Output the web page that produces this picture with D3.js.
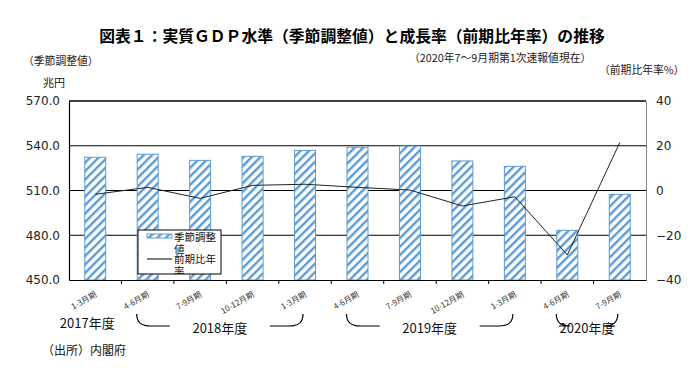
<!DOCTYPE html>
<html>
<head>
<meta charset="utf-8">
<script src="https://cdn.jsdelivr.net/npm/d3@7"></script>
<style>
body { margin: 0; background: #fff; }
text { font-family: "Noto Sans CJK JP", "DejaVu Sans", sans-serif; }
</style>
</head>
<body>
<div id="chart"></div>
<script>
var quarters = ["1-3月期", "4-6月期", "7-9月期", "10-12月期", "1-3月期", "4-6月期", "7-9月期", "10-12月期", "1-3月期", "4-6月期", "7-9月期"];
var gdpLevel = [532.3, 534.3, 530.2, 532.9, 536.9, 539.0, 539.8, 529.8, 526.2, 483.3, 507.4];
var growthRate = [-1.7, 1.4, -3.5, 2.3, 2.8, 1.4, 0.2, -6.9, -2.8, -28.8, 21.4];
var leftTicks = [450, 480, 510, 540, 570];
var rightTicks = [-40, -20, 0, 20, 40];
// fiscal years: first / last quarter index
var fiscalYears = [
    { label: "2017年度", from: 0, to: 0 },
    { label: "2018年度", from: 1, to: 4 },
    { label: "2019年度", from: 5, to: 8 },
    { label: "2020年度", from: 9, to: 10 }
];

var width = 699, height = 386;
var plot = { left: 69, right: 646, top: 101, bottom: 280 };
var barBlue = "#5b9bd5";

var svg = d3.select("#chart").append("svg")
    .attr("width", width)
    .attr("height", height);

var defs = svg.append("defs");
var pat = defs.append("pattern")
    .attr("id", "hatch")
    .attr("patternUnits", "userSpaceOnUse")
    .attr("width", 6).attr("height", 6)
    .attr("patternTransform", "rotate(45)");
pat.append("rect").attr("width", 6).attr("height", 6).attr("fill", "#fff");
pat.append("rect").attr("x", 0).attr("width", 2.4).attr("height", 6).attr("fill", barBlue);

var x = d3.scaleBand()
    .domain(d3.range(quarters.length))
    .range([plot.left, plot.right]);

var yL = d3.scaleLinear().domain([450, 570]).range([plot.bottom, plot.top]);
var yR = d3.scaleLinear().domain([-40, 40]).range([plot.bottom, plot.top]);

// gridlines
svg.append("g").selectAll("line")
    .data(leftTicks.slice(1))
    .enter().append("line")
    .attr("x1", plot.left).attr("x2", plot.right)
    .attr("y1", function(d) { return yL(d); })
    .attr("y2", function(d) { return yL(d); })
    .attr("stroke", "#000").attr("stroke-width", 1.2);

// bars
var barW = 21;
svg.append("g").selectAll("rect")
    .data(gdpLevel)
    .enter().append("rect")
    .attr("x", function(d, i) { return x(i) + x.bandwidth() / 2 - barW / 2; })
    .attr("y", function(d) { return yL(d); })
    .attr("width", barW)
    .attr("height", function(d) { return plot.bottom - yL(d); })
    .attr("fill", "url(#hatch)")
    .attr("stroke", barBlue)
    .attr("stroke-width", 1);

// growth line
var line = d3.line()
    .x(function(d, i) { return x(i) + x.bandwidth() / 2; })
    .y(function(d) { return yR(d); });
svg.append("path")
    .datum(growthRate)
    .attr("d", line)
    .attr("fill", "none")
    .attr("stroke", "#222")
    .attr("stroke-width", 1);

// left axis
var axL = svg.append("g")
    .attr("transform", "translate(" + plot.left + ",0)")
    .call(d3.axisLeft(yL).tickValues(leftTicks).tickSize(0).tickPadding(9).tickFormat(d3.format(".1f")));
axL.select(".domain").attr("stroke", "#000").attr("stroke-width", 1.2);
axL.selectAll("text").attr("font-size", 12).attr("fill", "#222")
    .style("font-family", "Verdana, 'DejaVu Sans', sans-serif");

// right axis
var axR = svg.append("g")
    .attr("transform", "translate(" + plot.right + ",0)")
    .call(d3.axisRight(yR).tickValues(rightTicks).tickSize(0).tickPadding(10));
axR.select(".domain").attr("stroke", "#888");
axR.selectAll("text").attr("font-size", 12).attr("fill", "#222")
    .style("font-family", "Verdana, 'DejaVu Sans', sans-serif");

// bottom axis
var axB = svg.append("g")
    .attr("transform", "translate(0," + plot.bottom + ")")
    .call(d3.axisBottom(x).tickSize(0).tickFormat(""));
axB.select(".domain").attr("stroke", "#000").attr("stroke-width", 1.2);
axB.selectAll(".tick").remove();
svg.append("g").selectAll("line")
    .data(d3.range(1, quarters.length))
    .enter().append("line")
    .attr("x1", function(d) { return x(d); })
    .attr("x2", function(d) { return x(d); })
    .attr("y1", plot.bottom).attr("y2", plot.bottom + 4)
    .attr("stroke", "#000");

svg.append("line")
    .attr("x1", plot.left).attr("x2", plot.right)
    .attr("y1", plot.top).attr("y2", plot.top)
    .attr("stroke", "#000").attr("stroke-width", 1.2);

// quarter labels, rotated
svg.append("g").selectAll("text")
    .data(quarters)
    .enter().append("text")
    .attr("transform", function(d, i) {
        return "translate(" + (x(i) + x.bandwidth() / 2 + 2) + "," + (plot.bottom + 16) + ") rotate(-30)";
    })
    .attr("text-anchor", "end")
    .attr("font-size", 8)
    .attr("fill", "#333")
    .text(function(d) { return d; });

// fiscal year brackets
var yrG = svg.append("g");
fiscalYears.forEach(function(fy) {
    var cx0 = x(fy.from) + x.bandwidth() / 2, cx1 = x(fy.to) + x.bandwidth() / 2;
    if (fy.from === fy.to) {
        yrG.append("text").attr("x", cx0 - 8).attr("y", 328)
            .attr("text-anchor", "middle").attr("font-size", 13).attr("fill", "#111")
            .text(fy.label);
        return;
    }
    var x0 = cx0 - 11, x1 = cx1 - 2, yTop = 314, yLine = 326;
    var mid = (x0 + x1) / 2;
    var gap = fy.to - fy.from > 1 ? 22 : 0;
    var p = d3.path();
    p.moveTo(x0, yTop);
    p.bezierCurveTo(x0, yLine - 3, x0 + 5, yLine, x0 + 14, yLine);
    p.lineTo(mid - gap - 28, yLine);
    p.moveTo(mid + gap + 28, yLine);
    p.lineTo(x1 - 14, yLine);
    p.bezierCurveTo(x1 - 5, yLine, x1, yLine - 3, x1, yTop);
    yrG.append("path").attr("d", p.toString())
        .attr("fill", "none").attr("stroke", "#000").attr("stroke-width", 1.2);
    yrG.append("text").attr("x", mid).attr("y", 333)
        .attr("text-anchor", "middle").attr("font-size", 13).attr("fill", "#111")
        .text(fy.label);
});

// legend
var lg = svg.append("g").attr("transform", "translate(138,230)");
defs.append("clipPath").attr("id", "lgclip")
    .append("rect").attr("width", 83).attr("height", 44);
lg.append("rect").attr("width", 83).attr("height", 44)
    .attr("fill", "#fff").attr("stroke", "#000").attr("stroke-width", 1);
var lgc = lg.append("g").attr("clip-path", "url(#lgclip)");
lgc.append("rect").attr("x", 9).attr("y", 4).attr("width", 25).attr("height", 4)
    .attr("fill", "url(#hatch)").attr("stroke", barBlue);
lgc.append("line").attr("x1", 9).attr("x2", 34).attr("y1", 29).attr("y2", 29)
    .attr("stroke", "#000");
var legendLines = [["季節調整", 10.5], ["値", 22.5], ["前期比年", 33], ["率", 45]];
lgc.selectAll("text.lg").data(legendLines).enter().append("text")
    .attr("class", "lg")
    .attr("x", 36).attr("y", function(d) { return d[1]; })
    .attr("font-size", 10.5).attr("fill", "#111")
    .text(function(d) { return d[0]; });

// titles and notes
svg.append("text").attr("x", 352).attr("y", 42)
    .attr("text-anchor", "middle").attr("font-size", 15.8).attr("font-weight", "bold")
    .attr("fill", "#000")
    .text("図表１：実質ＧＤＰ水準（季節調整値）と成長率（前期比年率）の推移");
svg.append("text").attr("x", 409).attr("y", 62)
    .attr("font-size", 10.8).attr("fill", "#222")
    .text("（2020年7～9月期第1次速報値現在）");
svg.append("text").attr("x", 599).attr("y", 74)
    .attr("font-size", 10.8).attr("fill", "#222")
    .text("（前期比年率%）");
svg.append("text").attr("x", 23).attr("y", 65)
    .attr("font-size", 10.8).attr("fill", "#222")
    .text("（季節調整値）");
svg.append("text").attr("x", 43).attr("y", 87)
    .attr("font-size", 11).attr("fill", "#111")
    .text("兆円");
svg.append("text").attr("x", 42).attr("y", 355)
    .attr("font-size", 12).attr("fill", "#111")
    .text("（出所）内閣府");
</script>
</body>
</html>
